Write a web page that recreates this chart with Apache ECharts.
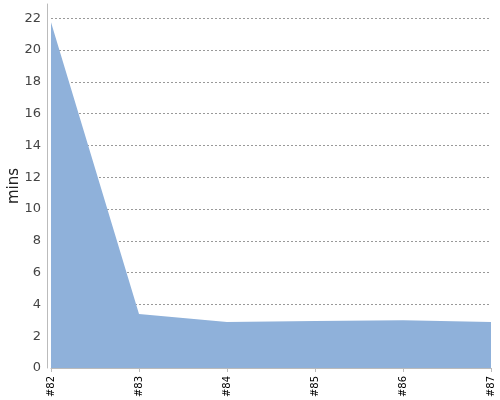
<!DOCTYPE html>
<html>
<head>
<meta charset="utf-8">
<script src="https://cdn.jsdelivr.net/npm/echarts@6/dist/echarts.min.js"></script>
<style>
  html, body { margin: 0; padding: 0; background: #fff; }
  #box { width: 500px; height: 400px; }
</style>
</head>
<body>
<div id="box"></div>
<script>
// 数据
var builds = ['#82', '#83', '#84', '#85', '#86', '#87'];
var minutes = [21.75, 3.4, 2.9, 2.95, 3.0, 2.9];

var myChart = echarts.init(document.getElementById('box'));

var option = {
    backgroundColor: '#ffffff',
    animation: false,
    textStyle: { fontFamily: 'DejaVu Sans' },
    grid: { left: 51, right: 9, top: 4, bottom: 32, containLabel: false, outerBoundsMode: 'none' },
    xAxis: {
        type: 'category',
        boundaryGap: false,
        data: builds,
        offset: 3,
        axisLine: { lineStyle: { color: '#bbbbbb' } },
        axisTick: { alignWithLabel: true, length: 4, lineStyle: { color: '#bbbbbb' } },
        axisLabel: { rotate: 90, interval: 0, fontSize: 10, color: '#000', margin: 5 },
        splitLine: { show: false }
    },
    yAxis: {
        type: 'value',
        min: 0,
        max: 22.9,
        interval: 2,
        offset: 4,
        name: 'mins',
        nameLocation: 'middle',
        nameGap: 25,
        nameMoveOverlap: false,
        nameTextStyle: { fontSize: 15, color: '#222' },
        axisLine: { show: true, lineStyle: { color: '#bbbbbb' } },
        axisTick: { show: false },
        axisLabel: { fontSize: 13, color: '#444', margin: 6, showMaxLabel: false },
        splitLine: {
            showMaxLine: false,
            lineStyle: { color: '#999', type: [2, 2], width: 1 }
        }
    },
    series: [{
        type: 'line',
        data: minutes,
        symbol: 'none',
        lineStyle: { width: 0 },
        areaStyle: { color: '#8fb1da', opacity: 1 }
    }]
};

myChart.setOption(option);
</script>
</body>
</html>
